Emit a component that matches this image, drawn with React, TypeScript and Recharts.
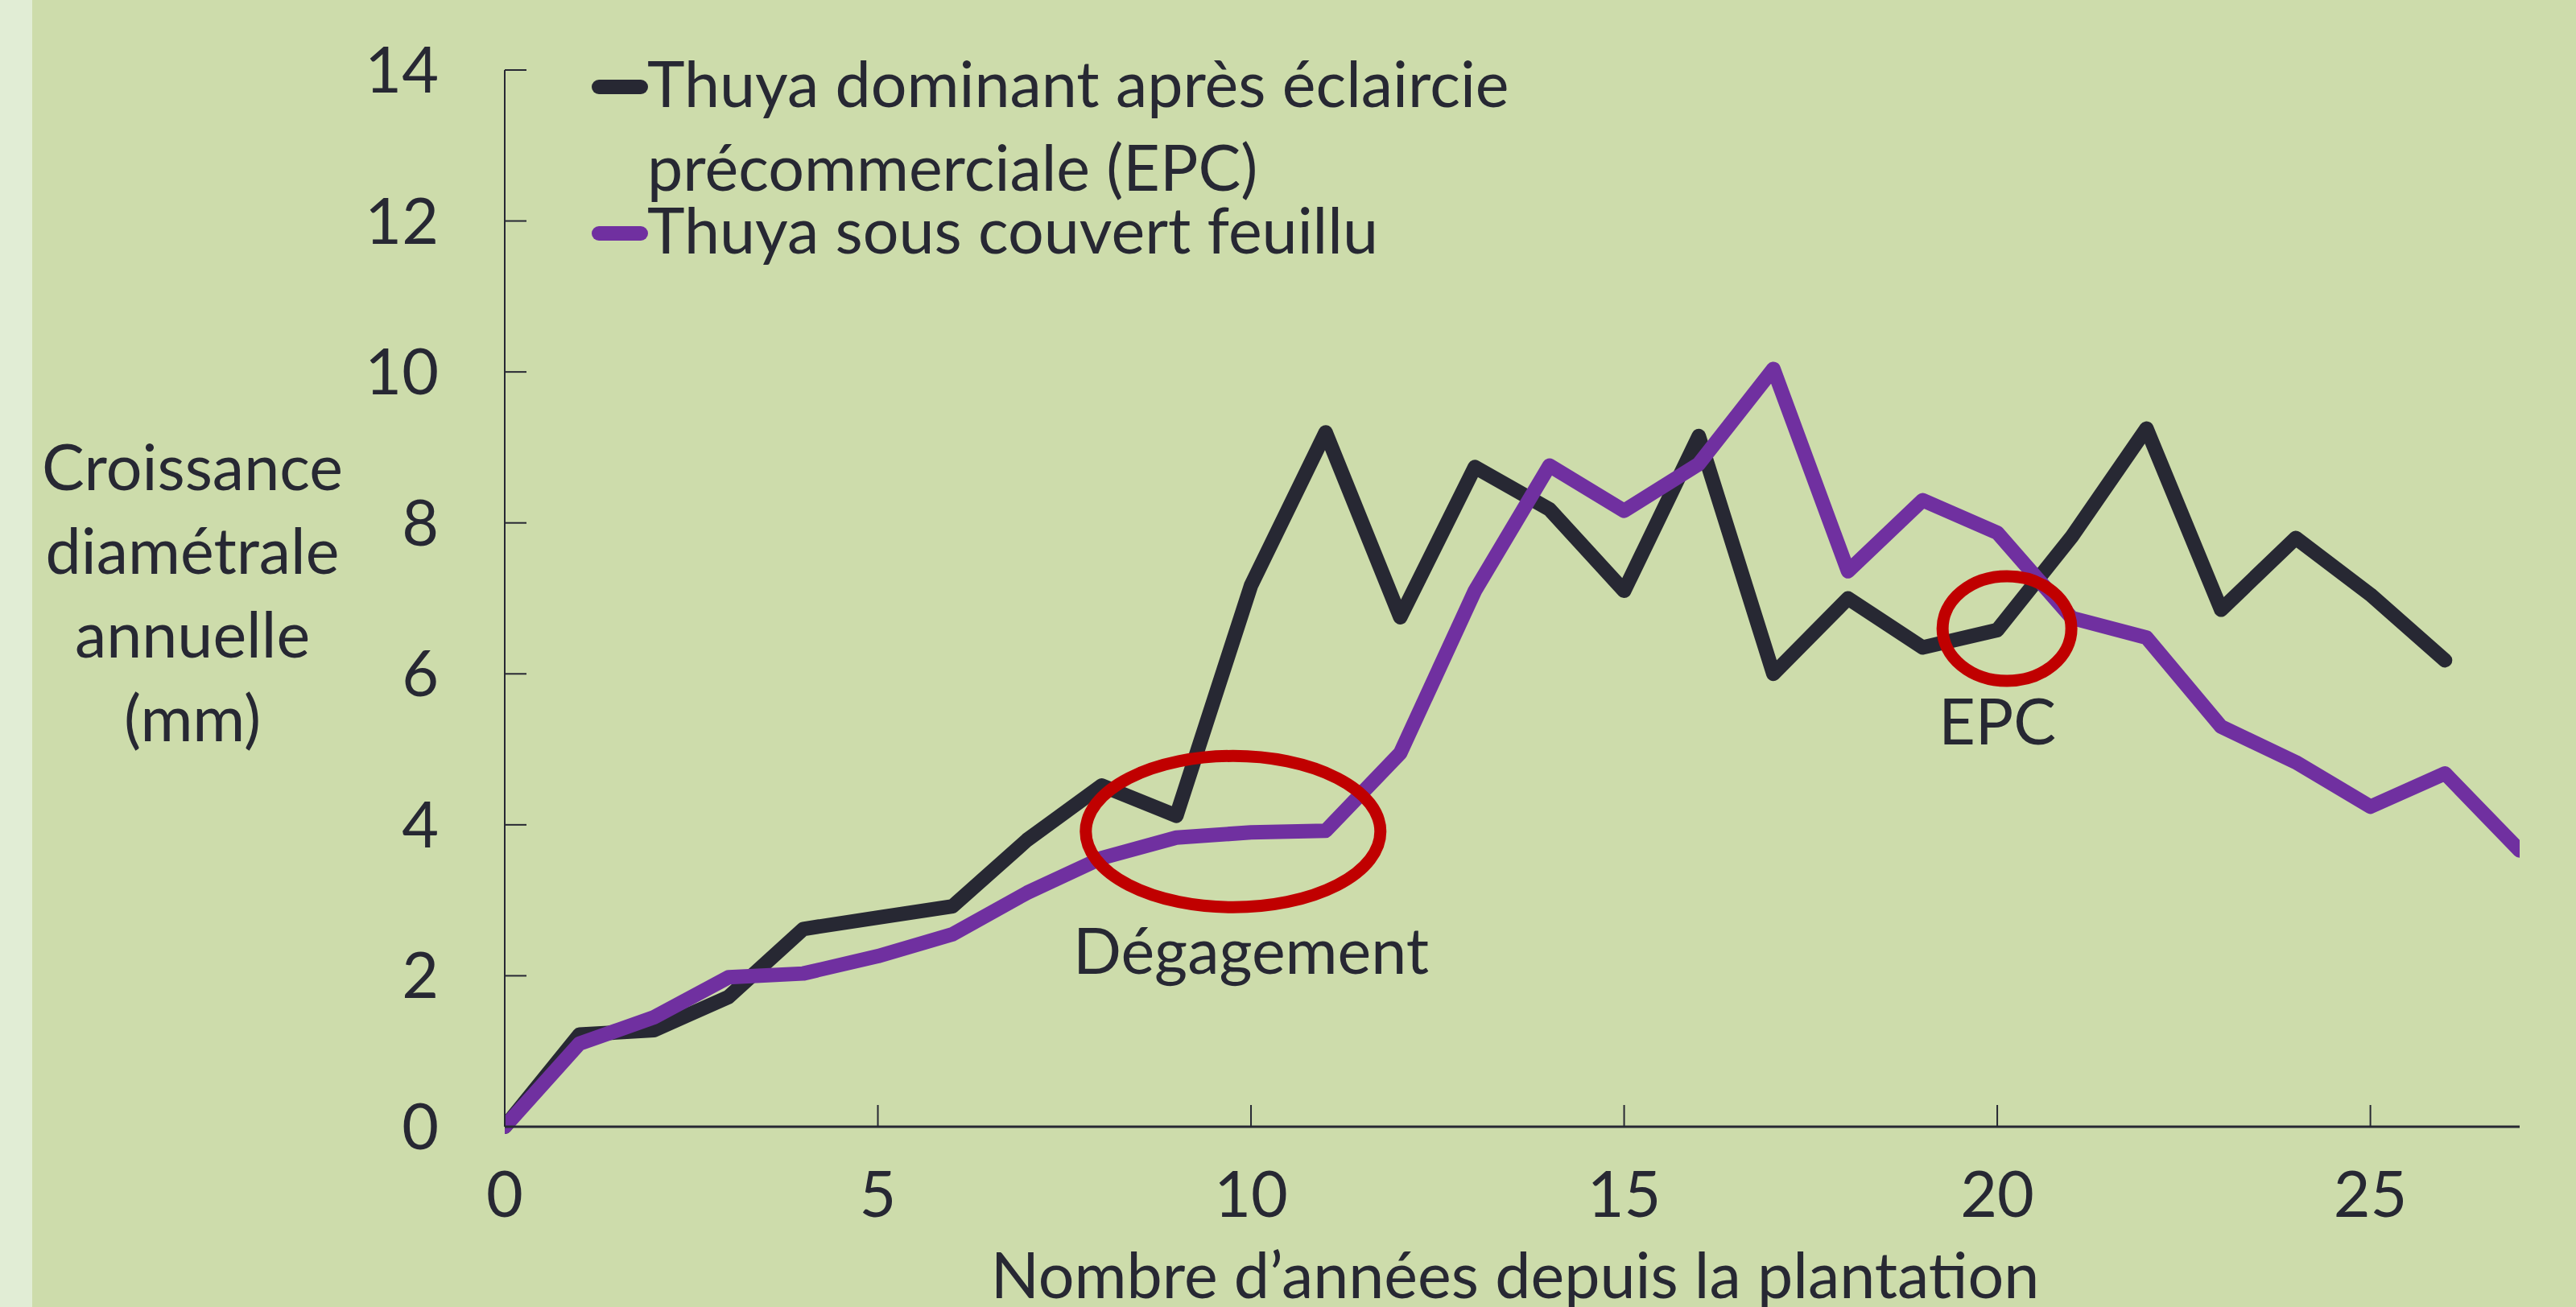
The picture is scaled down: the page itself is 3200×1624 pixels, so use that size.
import { LineChart, Line, XAxis, YAxis, ReferenceDot } from 'recharts'

const YEARS = [0, 1, 2, 3, 4, 5, 6, 7, 8, 9, 10, 11, 12, 13, 14, 15, 16, 17, 18, 19, 20, 21, 22, 23, 24, 25, 26, 27]
const DOMINANT = [0, 1.22, 1.28, 1.72, 2.62, 2.77, 2.92, 3.8, 4.52, 4.12, 7.17, 9.2, 6.75, 8.74, 8.18, 7.1, 9.15, 6.0, 7.0, 6.35, 6.58, 7.82, 9.25, 6.85, 7.8, 7.05, 6.18]
const SOUS_COUVERT = [0, 1.1, 1.45, 1.98, 2.03, 2.26, 2.55, 3.1, 3.56, 3.83, 3.9, 3.92, 4.95, 7.1, 8.76, 8.16, 8.78, 10.04, 7.36, 8.3, 7.87, 6.74, 6.48, 5.3, 4.83, 4.24, 4.68, 3.66]
const X_TICKS = [0, 5, 10, 15, 20, 25]
const Y_TICKS = [0, 2, 4, 6, 8, 10, 12, 14]

const SERIES = [
  { key: 'dominant', color: '#272833', label: ['Thuya dominant après éclaircie', 'précommerciale (EPC)'] },
  { key: 'sousCouvert', color: '#7030A0', label: ['Thuya sous couvert feuillu'] },
]

const Y_LABEL = ['Croissance', 'diamétrale', 'annuelle', '(mm)']
const X_LABEL = 'Nombre d’années depuis la plantation'

// annotations: [x, y] in data units
const DEGAGEMENT = { ellipse: [9.76, 3.91], text: [10, 2.03], label: 'Dégagement' }
const EPC = { ellipse: [20.13, 6.6], text: [20, 5.06], label: 'EPC' }

const data = YEARS.map((t, i) => ({
  t,
  dominant: DOMINANT[i],
  sousCouvert: SOUS_COUVERT[i],
}))

const INK = '#272833'
const RED = '#C00000'
const FONT = 'Lato, "Open Sans", sans-serif'
const FS = 79

const ellipseShape = (rx: number, ry: number) => (p: any) => (
  <ellipse cx={p.cx} cy={p.cy} rx={rx} ry={ry} fill="none" stroke={RED} strokeWidth={15} />
)
const textShape = (s: string) => (p: any) => (
  <text x={p.cx} y={p.cy} textAnchor="middle" fontSize={FS} fontFamily={FONT} fill={INK}>{s}</text>
)

export default function App() {
  return (
    <div style={{ position: 'absolute', left: 0, top: 0, width: 3200, height: 1624, background: '#CDDCAB', overflow: 'hidden' }}>
      <div style={{ position: 'absolute', left: 0, top: 0, width: 40, height: 1624, background: '#E1EDD5' }} />
      <LineChart width={3200} height={1624} data={data} margin={{ top: 87, right: 70, bottom: 0, left: 0 }}>
        <XAxis
          dataKey="t" type="number" domain={[0, 27]} ticks={X_TICKS} allowDataOverflow
          height={224} tickSize={-27} tickMargin={83}
          axisLine={{ stroke: INK, strokeWidth: 3 }} tickLine={{ stroke: INK, strokeWidth: 2 }}
          tick={{ fontSize: FS, fontFamily: FONT, fill: INK }}
          label={{
            content: () => (
              <text x={1882} y={1613} textAnchor="middle" fontSize={FS} fontFamily={FONT} fill={INK}>{X_LABEL}</text>
            ),
          }}
        />
        <YAxis
          type="number" domain={[0, 14]} ticks={Y_TICKS} interval={0}
          width={627} tickSize={-27} tickMargin={109}
          axisLine={{ stroke: INK, strokeWidth: 2 }} tickLine={{ stroke: INK, strokeWidth: 2 }}
          tick={{ fontSize: FS, fontFamily: FONT, fill: INK }}
          label={{
            content: () => (
              <text textAnchor="middle" fontSize={FS} fontFamily={FONT} fill={INK}>
                {Y_LABEL.map((s, i) => (
                  <tspan key={i} x={239} y={609 + i * 104}>{s}</tspan>
                ))}
              </text>
            ),
          }}
        />
        {SERIES.map(s => (
          <Line
            key={s.key} dataKey={s.key} stroke={s.color} strokeWidth={18} dot={false} activeDot={false}
            strokeLinejoin="round" strokeLinecap="round" isAnimationActive={false}
          />
        ))}
        <ReferenceDot x={DEGAGEMENT.ellipse[0]} y={DEGAGEMENT.ellipse[1]} shape={ellipseShape(183, 94)} />
        <ReferenceDot x={DEGAGEMENT.text[0]} y={DEGAGEMENT.text[1]} shape={textShape(DEGAGEMENT.label)} />
        <ReferenceDot x={EPC.ellipse[0]} y={EPC.ellipse[1]} shape={ellipseShape(80, 65)} />
        <ReferenceDot x={EPC.text[0]} y={EPC.text[1]} shape={textShape(EPC.label)} />
      </LineChart>

      {/* Legend */}
      <svg style={{ position: 'absolute', left: 700, top: 40 }} width={1300} height={320}>
        <line x1={44} y1={68} x2={96} y2={68} stroke={SERIES[0].color} strokeWidth={18} strokeLinecap="round" />
        <text x={104} y={93} fontSize={FS} fontFamily={FONT} fill={INK}>{SERIES[0].label[0]}</text>
        <text x={104} y={197} fontSize={FS} fontFamily={FONT} fill={INK}>{SERIES[0].label[1]}</text>
        <line x1={44} y1={250} x2={96} y2={250} stroke={SERIES[1].color} strokeWidth={18} strokeLinecap="round" />
        <text x={104} y={275} fontSize={FS} fontFamily={FONT} fill={INK}>{SERIES[1].label[0]}</text>
      </svg>
    </div>
  )
}
